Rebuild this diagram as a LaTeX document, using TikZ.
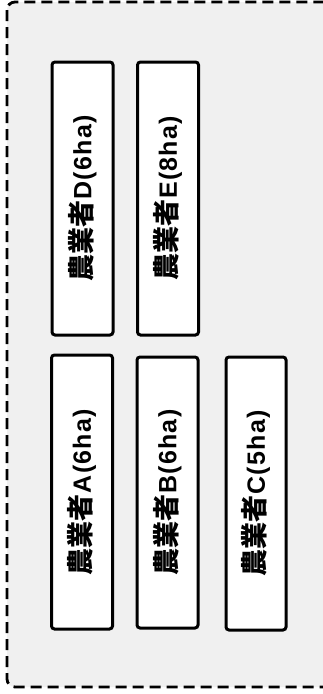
\documentclass[tikz,border=0pt]{standalone}
\usepackage{fontspec}
\newfontfamily\jpfont{Noto Sans CJK JP}
\newfontfamily\latfont[LetterSpace=5]{Liberation Sans}
\newcommand{\farmerlabel}[2]{{\jpfont\bfseries\fontsize{27}{27}\selectfont #1}{\latfont\bfseries\fontsize{25}{25}\selectfont\kern1pt #2}}
\begin{document}
\begin{tikzpicture}[x=1pt,y=-1pt,
  farmer/.style={draw=black, line width=3pt, rounded corners=3pt, fill=white,
    rotate=90, inner sep=0pt, minimum height=61pt, anchor=center}]
\useasboundingbox (0,0) rectangle (323,694);
\clip (0,0) rectangle (323,694);
\fill[white] (0,0) rectangle (323,694);
\draw[dash pattern=on 11pt off 6pt, line width=2.8pt, rounded corners=8pt, fill=black!6]
  (7,2) rectangle (340,687);
\node[farmer, minimum width=273pt] (bD) at (82.5,198.5) {\farmerlabel{農業者}{D(6ha)}};
\node[farmer, minimum width=273pt] (bE) at (168,198.5) {\farmerlabel{農業者}{E(8ha)}};
\node[farmer, minimum width=274pt] (bA) at (82,492) {\farmerlabel{農業者}{A(6ha)}};
\node[farmer, minimum width=271pt] (bB) at (167.5,492.5) {\farmerlabel{農業者}{B(6ha)}};
\node[farmer, minimum width=273pt, minimum height=60pt] (bC) at (256,493.5) {\farmerlabel{農業者}{C(5ha)}};
\end{tikzpicture}
\end{document}
